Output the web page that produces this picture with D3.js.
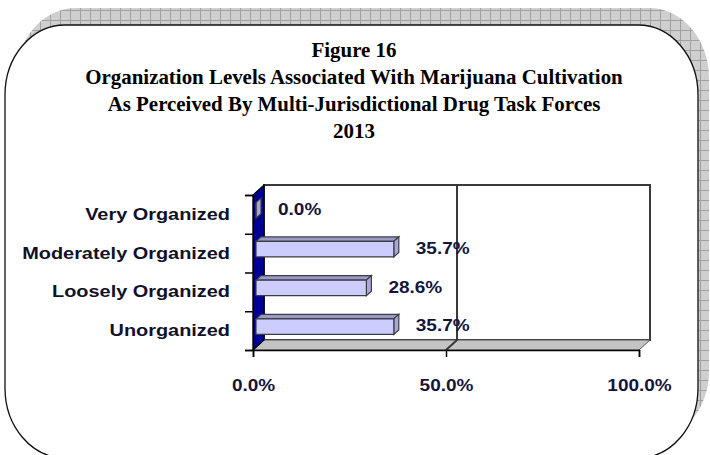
<!DOCTYPE html>
<html><head><meta charset="utf-8">
<script src="https://cdn.jsdelivr.net/npm/d3@7"></script>
<style>html,body{margin:0;padding:0;background:#fff;overflow:hidden}</style>
</head><body>
<svg id="chart" width="710" height="455"></svg>
<script>
// ---- data ----
const titleLines = [
  "Figure 16",
  "Organization Levels Associated With Marijuana Cultivation",
  "As Perceived By Multi-Jurisdictional Drug Task Forces",
  "2013"
];
const categories = ["Very Organized", "Moderately Organized", "Loosely Organized", "Unorganized"];
const values = [0.0, 35.7, 28.6, 35.7];
const xTicks = [0, 50, 100];

// ---- setup ----
const svg = d3.select("#chart");
const defs = svg.append("defs");

// widen text horizontally by a factor k
function stretch(sel, k) {
  sel.each(function () {
    const w = this.getComputedTextLength();
    d3.select(this).attr("textLength", w * k).attr("lengthAdjust", "spacingAndGlyphs");
  });
}

// hatched grid used for the frame's drop shadow
const pat = defs.append("pattern").attr("id", "shadowGrid")
  .attr("width", 10).attr("height", 10).attr("patternUnits", "userSpaceOnUse");
pat.append("rect").attr("width", 10).attr("height", 10).attr("fill", "#cfcfcf");
pat.append("path").attr("d", "M0,0.5H10M0.5,0V10").attr("stroke", "#a0a0a0").attr("stroke-width", 1);

// ---- frame ----
svg.append("rect").attr("x", 16).attr("y", 8).attr("width", 693).attr("height", 433)
  .attr("rx", 60).attr("ry", 70).attr("fill", "url(#shadowGrid)");
svg.append("rect").attr("x", 5).attr("y", 25).attr("width", 693).attr("height", 433)
  .attr("rx", 60).attr("ry", 70).attr("fill", "#fff").attr("stroke", "#111").attr("stroke-width", 1.3);

// ---- title ----
const title = svg.append("g")
  .attr("font-family", "'Liberation Serif','Times New Roman',serif")
  .attr("font-weight", "bold").attr("font-size", 22).attr("fill", "#000")
  .attr("text-anchor", "middle");
title.selectAll("text").data(titleLines).join("text")
  .attr("x", 354).attr("y", (d, i) => 57 + i * 27)
  .text(d => d)
  .call(stretch, 0.95);

// ---- 3D plot geometry ----
const x = d3.scaleLinear().domain([0, 100]).range([253, 639]);
const y = d3.scaleBand().domain(categories).range([195, 350]).paddingInner(0.6).paddingOuter(0.3);
const yEdge = d3.scaleLinear().domain([0, categories.length]).range([195, 350]);
const depth = { dx: 11, dy: -10 };
const plotTop = yEdge(0), plotBottom = yEdge(categories.length);
const x0 = x(0), x1 = x(100);

const plot = svg.append("g");
// back wall
plot.append("path")
  .attr("d", `M${x0 + depth.dx},${plotTop + depth.dy}H${x1 + depth.dx}V${plotBottom + depth.dy}H${x0 + depth.dx}Z`)
  .attr("fill", "#fff").attr("stroke", "#3a3a3a").attr("stroke-width", 2);
// floor
plot.append("path")
  .attr("d", `M${x0},${plotBottom}L${x0 + depth.dx},${plotBottom + depth.dy}H${x1 + depth.dx}L${x1},${plotBottom}Z`)
  .attr("fill", "#c4c4c4").attr("stroke", "#555").attr("stroke-width", 1);
// left wall
plot.append("path")
  .attr("d", `M${x0},${plotTop}L${x0 + depth.dx},${plotTop + depth.dy}V${plotBottom + depth.dy}L${x0},${plotBottom}Z`)
  .attr("fill", "#000099").attr("stroke", "#000").attr("stroke-width", 1.2);
// gridlines on back wall and floor
plot.selectAll(".grid").data(xTicks.filter(t => t > 0 && t < 100)).join("path")
  .attr("class", "grid")
  .attr("d", t => `M${x(t) + depth.dx},${plotTop + depth.dy}V${plotBottom + depth.dy}L${x(t)},${plotBottom}`)
  .attr("fill", "none").attr("stroke", "#3a3a3a").attr("stroke-width", 2);

// ---- bars ----
const bOff = { dx: 3, dy: -4 };   // front face position inside the depth
const bDep = { dx: 5, dy: -4.5 }; // bar thickness in depth
const bh = y.bandwidth();
const rows = categories.map((c, i) => ({ c, v: values[i] }));
const bars = plot.selectAll(".bar").data(rows).join("g").attr("class", "bar");
bars.each(function (d) {
  const g = d3.select(this);
  const L = x(0) + bOff.dx, R = x(d.v) + bOff.dx, T = y(d.c) + bOff.dy, B = T + bh;
  const edge = "#3c3c46", ew = 1.2;
  g.append("path")
    .attr("d", `M${L},${T}L${L + bDep.dx},${T + bDep.dy}H${R + bDep.dx}L${R},${T}Z`)
    .attr("fill", "#9a9ac4").attr("stroke", edge).attr("stroke-width", ew);
  g.append("path")
    .attr("d", `M${R},${T}L${R + bDep.dx},${T + bDep.dy}V${B + bDep.dy}L${R},${B}Z`)
    .attr("fill", "#a8a8d8").attr("stroke", edge).attr("stroke-width", ew);
  g.append("path")
    .attr("d", `M${L},${T}H${R}V${B}H${L}Z`)
    .attr("fill", "#ccccff").attr("stroke", edge).attr("stroke-width", ew);
});

// value labels
plot.selectAll(".val").data(rows).join("text")
  .attr("class", "val")
  .attr("x", d => x(d.v) + 25)
  .attr("y", d => y(d.c) + bh / 2 - 5)
  .attr("dy", "0.35em")
  .attr("font-family", "'Liberation Sans',Arial,sans-serif").attr("font-weight", "bold")
  .attr("font-size", 16.5).attr("fill", "#14143a")
  .text(d => d.v.toFixed(1) + "%")
  .call(stretch, 1.15);

// ---- axes ----
const yTicksAxis = svg.append("g").attr("transform", `translate(${x0},0)`)
  .call(d3.axisLeft(yEdge).tickValues(d3.range(categories.length + 1)).tickFormat("").tickSize(8));
yTicksAxis.select(".domain").attr("stroke", "#000").attr("stroke-width", 1.5);
yTicksAxis.selectAll(".tick line").attr("stroke", "#000").attr("stroke-width", 1.5);

const yLab = svg.append("g").attr("transform", `translate(${x0},0)`)
  .call(d3.axisLeft(y).tickSize(0).tickPadding(23));
yLab.select(".domain").remove();
yLab.selectAll("text")
  .attr("font-family", "'Liberation Sans',Arial,sans-serif").attr("font-weight", "bold")
  .attr("font-size", 17).attr("fill", "#111128")
  .call(stretch, 1.17);

const xAx = svg.append("g").attr("transform", `translate(0,${plotBottom})`)
  .call(d3.axisBottom(x).tickValues(xTicks).tickFormat(d => d.toFixed(1) + "%").tickSize(7).tickPadding(22));
xAx.select(".domain").attr("stroke", "#000").attr("stroke-width", 1.5);
xAx.selectAll(".tick line").attr("stroke", "#000").attr("stroke-width", 1.5);
xAx.selectAll("text")
  .attr("font-family", "'Liberation Sans',Arial,sans-serif").attr("font-weight", "bold")
  .attr("font-size", 16.5).attr("fill", "#14143a")
  .call(stretch, 1.15);
</script>
</body></html>
